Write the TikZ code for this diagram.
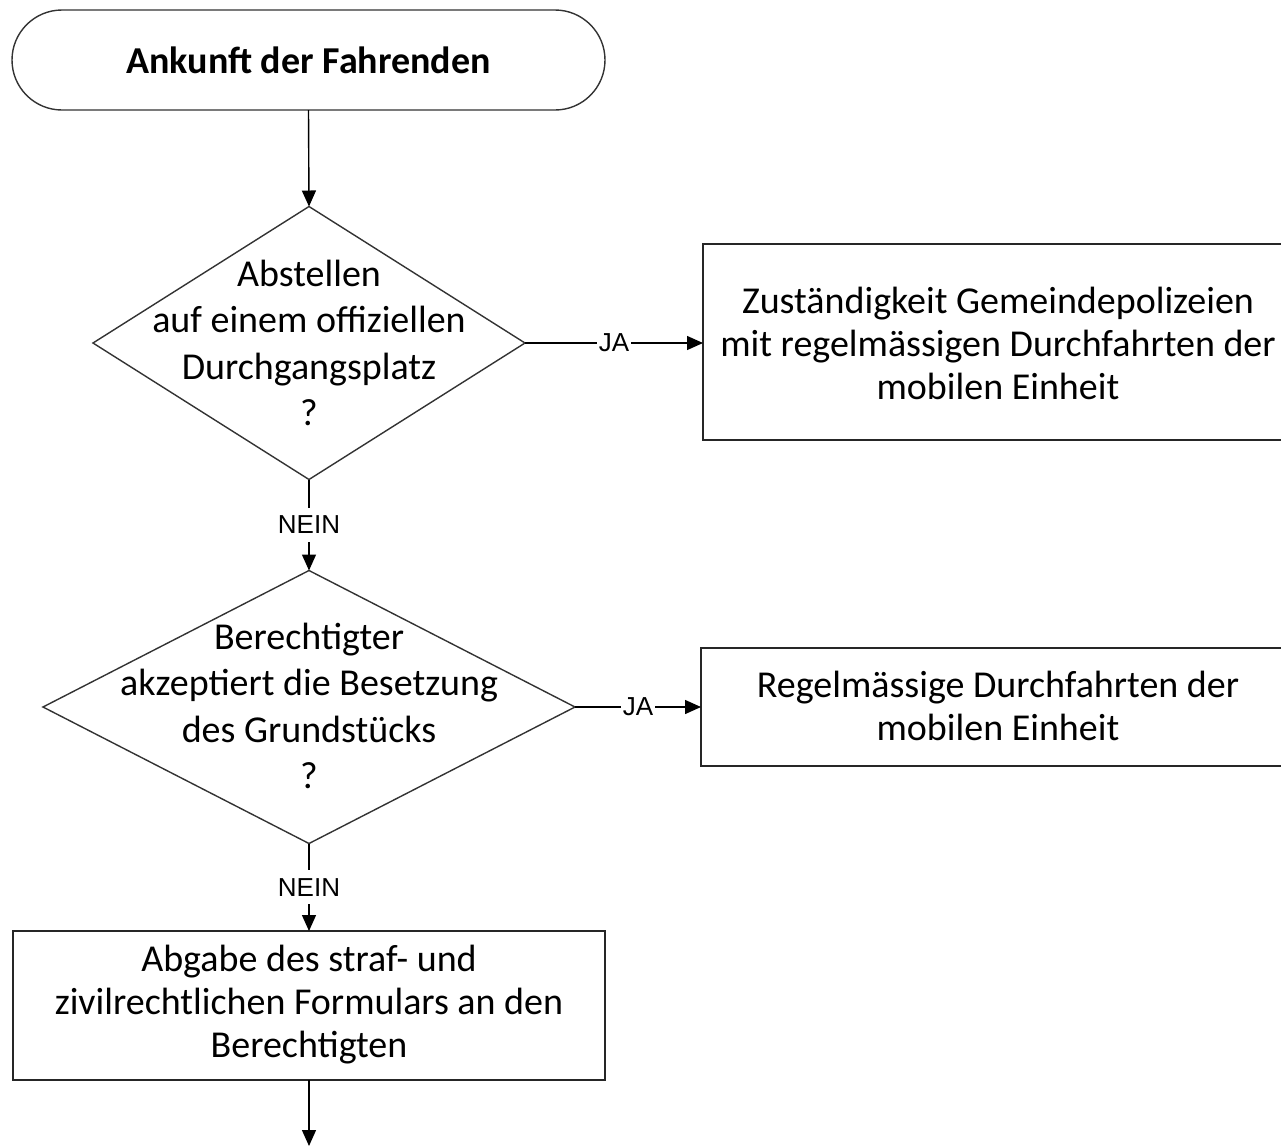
\documentclass[tikz,border=0pt]{standalone}
\usepackage{fontspec}
\setmainfont{Carlito}
\newfontfamily\labfont{Liberation Sans}
\usetikzlibrary{shapes.geometric,arrows.meta}
\begin{document}
\begin{tikzpicture}[x=0.5pt,y=-0.5pt,
  every node/.style={inner sep=0pt, outer sep=0pt},
  txt/.style={font=\fontsize{19}{21.5}\selectfont, align=center, text=black},
  dtxt/.style={font=\fontsize{19}{23.3}\selectfont, align=center, text=black},
  term/.style={draw=black!80, line width=0.7pt, rounded corners=25pt},
  procbox/.style={draw=black!85, line width=0.8pt},
  decis/.style={draw=black!80, line width=0.7pt, diamond},
  lab/.style={font=\labfont\fontsize{13}{15}\selectfont, fill=white, inner xsep=1pt, inner ysep=4pt, text=black},
  conn/.style={draw=black, line width=0.7pt},
  arr/.style={conn, -{Triangle[length=8pt,width=7pt]}}
]
\useasboundingbox (0,0) rectangle (1281,1147);
\clip (0,0) rectangle (1281,1147);

\node[term, minimum width=296.5pt, minimum height=50pt] (start) at (308.5,60) {};
\node[txt, font=\fontsize{19}{21.5}\selectfont\bfseries] (startt) at (start) {Ankunft der Fahrenden};

\node[decis, minimum width=216pt, minimum height=136.5pt] (d1) at (309,343) {};
\node[dtxt] (d1t) at (309,343) {Abstellen\\auf einem offiziellen\\Durchgangsplatz\\?};

\node[procbox, minimum width=295pt, minimum height=98pt] (b1) at (998,342) {};
\node[txt] (b1t) at (998,343) {Zuständigkeit Gemeindepolizeien\\mit regelmässigen Durchfahrten der\\mobilen Einheit};

\node[decis, minimum width=266pt, minimum height=136.5pt] (d2) at (309,707) {};
\node[dtxt] (d2t) at (309,706) {Berechtigter\\akzeptiert die Besetzung\\des Grundstücks\\?};

\node[procbox, minimum width=297pt, minimum height=59pt] (b2) at (998,707) {};
\node[txt] (b2t) at (998,706) {Regelmässige Durchfahrten der\\mobilen Einheit};

\node[procbox, minimum width=296pt, minimum height=74.5pt] (b3) at (309,1005.5) {};
\node[txt] (b3t) at (309,1004.5) {Abgabe des straf- und\\zivilrechtlichen Formulars an den\\Berechtigten};

\coordinate (end) at (309,1146);

\draw[arr] (start.south) -- (d1.north);
\draw[arr] (d1.east) -- node[lab] (ja1) {JA} (b1.west |- d1.east);
\draw[arr] (d1.south) -- node[lab] (nein1) {NEIN} (d2.north);
\draw[arr] (d2.east) -- node[lab] (ja2) {JA} (b2.west |- d2.east);
\draw[arr] (d2.south) -- node[lab] (nein2) {NEIN} (b3.north);
\draw[arr] (b3.south) -- (end);
\end{tikzpicture}
\end{document}
